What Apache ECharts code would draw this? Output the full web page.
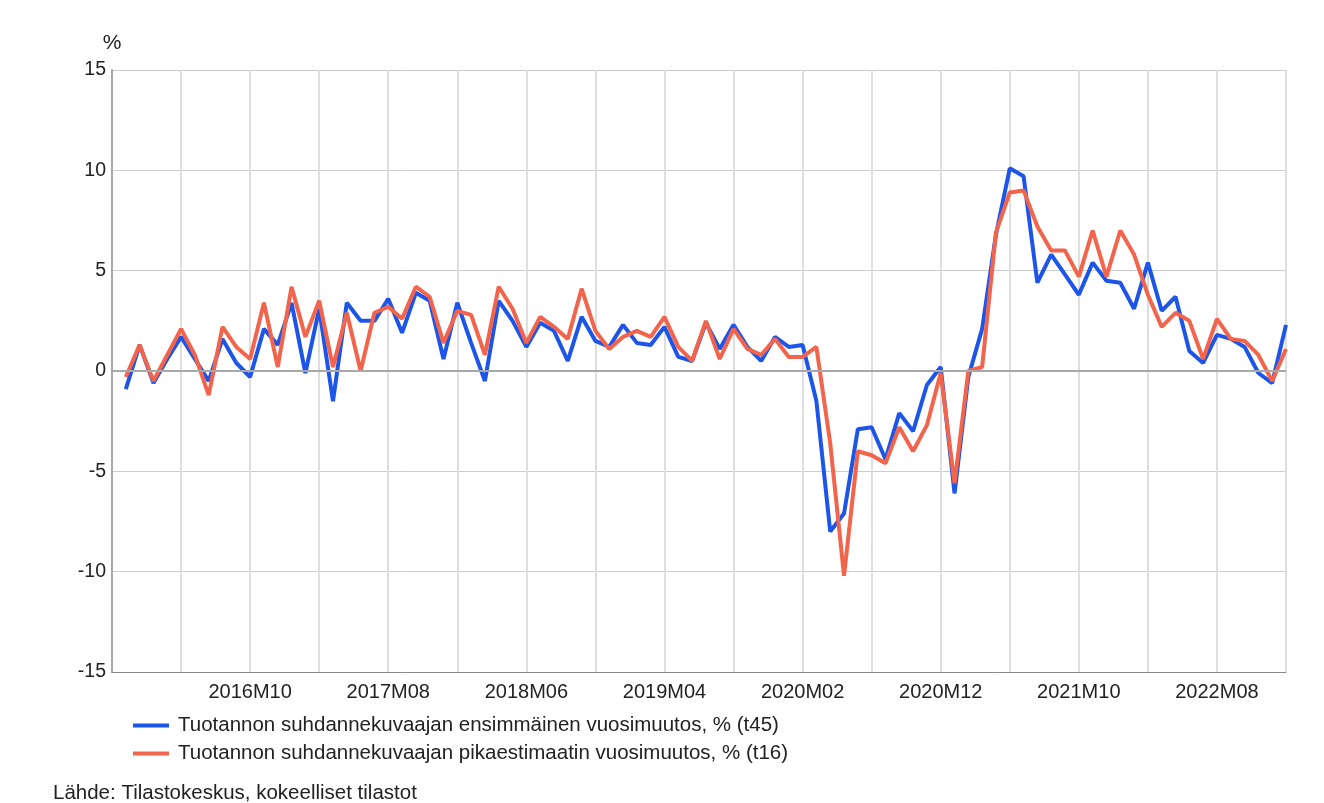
<!DOCTYPE html>
<html>
<head>
<meta charset="utf-8">
<script src="https://cdn.jsdelivr.net/npm/echarts@6/dist/echarts.min.js"></script>
<style>
html,body{margin:0;padding:0;background:#fff;}
#chart{width:1324px;height:803px;}
</style>
</head>
<body>
<div id="chart"></div>
<script>
// Categories: monthly, 2015M12 (empty lead slot) .. 2023M01
const startYear = 2015, startMonth = 12, monthCount = 86;
const categories = [];
for (let k = 0; k < monthCount; k++) {
  const m0 = (startMonth - 1 + k);
  const y = startYear + Math.floor(m0 / 12);
  const m = (m0 % 12) + 1;
  categories.push(y + 'M' + (m < 10 ? '0' + m : '' + m));
}

const seriesNames = [
  'Tuotannon suhdannekuvaajan ensimmäinen vuosimuutos, % (t45)',
  'Tuotannon suhdannekuvaajan pikaestimaatin vuosimuutos, % (t16)'
];

// 2016M01 .. 2023M01 (leading null for 2015M12)
const firstEstimate = [null,
  -0.9, 1.3, -0.6, 0.6, 1.7, 0.6, -0.5, 1.6, 0.4, -0.3, 2.1, 1.3,
  3.4, -0.1, 3.1, -1.5, 3.4, 2.5, 2.5, 3.6, 1.9, 3.9, 3.5, 0.6,
  3.4, 1.4, -0.5, 3.5, 2.5, 1.2, 2.4, 2.0, 0.5, 2.7, 1.5, 1.2,
  2.3, 1.4, 1.3, 2.2, 0.7, 0.5, 2.4, 1.1, 2.3, 1.2, 0.5, 1.7,
  1.2, 1.3, -1.5, -8.0, -7.1, -2.9, -2.8, -4.4, -2.1, -3.0, -0.7, 0.2,
  -6.1, -0.3, 2.1, 6.8, 10.1, 9.7, 4.4, 5.8, 4.8, 3.8, 5.4, 4.5,
  4.4, 3.1, 5.4, 3.0, 3.7, 1.0, 0.4, 1.8, 1.6, 1.2, -0.1, -0.6,
  2.3
];
const flashEstimate = [null,
  -0.3, 1.3, -0.5, 0.8, 2.1, 0.8, -1.2, 2.2, 1.2, 0.6, 3.4, 0.2,
  4.2, 1.7, 3.5, 0.2, 2.9, 0.0, 2.9, 3.2, 2.6, 4.2, 3.7, 1.4,
  3.0, 2.8, 0.8, 4.2, 3.1, 1.4, 2.7, 2.2, 1.6, 4.1, 2.0, 1.1,
  1.7, 2.0, 1.7, 2.7, 1.2, 0.5, 2.5, 0.6, 2.1, 1.1, 0.8, 1.6,
  0.7, 0.7, 1.2, -3.6, -10.2, -4.0, -4.2, -4.6, -2.8, -4.0, -2.7, -0.1,
  -5.6, 0.0, 0.2, 6.9, 8.9, 9.0, 7.2, 6.0, 6.0, 4.7, 7.0, 4.7,
  7.0, 5.8, 3.8, 2.2, 2.9, 2.5, 0.6, 2.6, 1.6, 1.5, 0.8, -0.5,
  1.1
];

const yMin = -15, yMax = 15, yStep = 5;
const sourceText = 'Lähde: Tilastokeskus, kokeelliset tilastot';

const FONT = '"Liberation Sans", Arial, sans-serif';
const chart = echarts.init(document.getElementById('chart'), null, {renderer: 'canvas'});
chart.setOption({
  animation: false,
  backgroundColor: '#ffffff',
  textStyle: {fontFamily: FONT},
  grid: {left: 112, right: 38, top: 70, bottom: 131, containLabel: false},
  xAxis: {
    type: 'category',
    data: categories,
    boundaryGap: false,
    axisLine: {onZero: false, lineStyle: {color: '#888', width: 1}},
    axisTick: {show: false},
    axisLabel: {
      interval: function (i) { return i > 0 && i % 10 === 0; },
      color: '#222', fontSize: 20, margin: 10, fontFamily: FONT
    },
    splitLine: {show: true, interval: 4, lineStyle: {color: '#dedede', width: 2}}
  },
  yAxis: {
    type: 'value',
    min: yMin, max: yMax, interval: yStep,
    name: '%',
    nameLocation: 'end',
    nameGap: 16,
    nameTextStyle: {color: '#222', fontSize: 21, fontFamily: FONT, align: 'center'},
    axisLine: {show: true, lineStyle: {color: '#a8a8a8', width: 2}},
    axisTick: {show: false},
    axisLabel: {color: '#222', fontSize: 19.5, margin: 6, fontFamily: FONT},
    splitLine: {show: true, lineStyle: {color: '#cccccc', width: 1}}
  },
  legend: {
    orient: 'vertical',
    left: 128, top: 710,
    itemWidth: 36, itemHeight: 4,
    itemGap: 7,
    icon: 'rect',
    textStyle: {color: '#222', fontSize: 20.5, fontFamily: FONT, padding: [0, 0, 0, 4], lineHeight: 21},
    data: seriesNames
  },
  graphic: [{
    type: 'text', left: 53, top: 783,
    style: {text: sourceText, fill: '#222', font: '20.5px ' + FONT}
  }],
  series: [
    {
      name: seriesNames[0], type: 'line', data: firstEstimate,
      symbol: 'none', color: '#1d55e8',
      lineStyle: {width: 4, color: '#1d55e8'},
      markLine: {
        silent: true, symbol: 'none', label: {show: false},
        lineStyle: {color: '#a8a8a8', width: 2, type: 'solid'},
        data: [{yAxis: 0}]
      },
      z: 2
    },
    {
      name: seriesNames[1], type: 'line', data: flashEstimate,
      symbol: 'none', color: '#f2654c',
      lineStyle: {width: 4, color: '#f2654c'},
      z: 3
    }
  ]
});
</script>
</body>
</html>
